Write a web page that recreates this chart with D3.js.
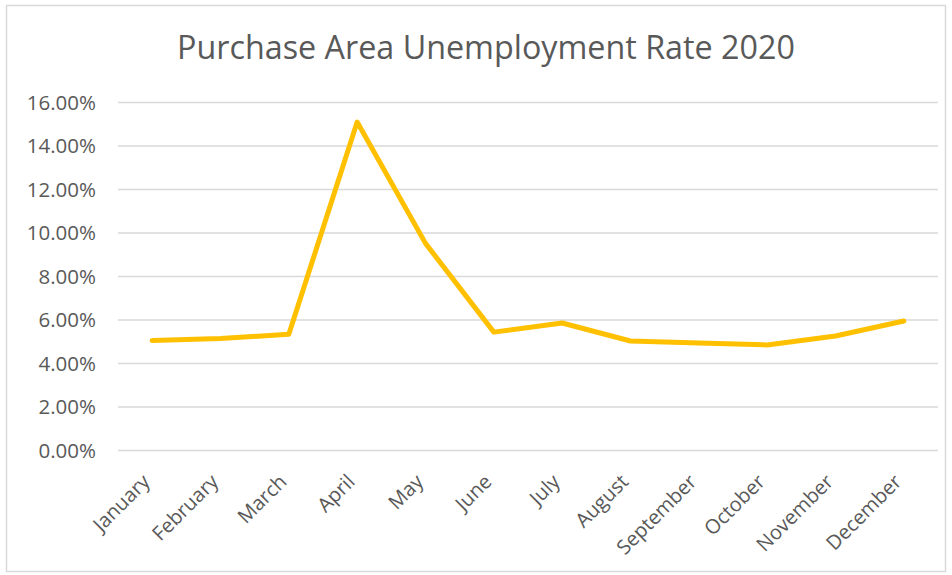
<!DOCTYPE html>
<html><head><meta charset="utf-8">
<script src="https://cdn.jsdelivr.net/npm/d3@7"></script>
<style>body{margin:0;background:#fff}svg{display:block}</style>
</head><body><svg id="c" width="952" height="575"></svg>
<script>
const months = ["January","February","March","April","May","June","July","August","September","October","November","December"];
const rates = [5.03, 5.13, 5.32, 15.08, 9.5, 5.42, 5.84, 5.01, 4.92, 4.83, 5.24, 5.93];
const yTicks = [0,2,4,6,8,10,12,14,16];
const title = "Purchase Area Unemployment Rate 2020";

const svg = d3.select("#c");
const W=952,H=575;
const m={left:118,right:14,top:102,bottom:125};
const FONT="'Open Sans', sans-serif";
svg.append("rect").attr("x",6.5).attr("y",5.5).attr("width",W-13).attr("height",H-9)
  .attr("fill","#fff").attr("stroke","#d9d9d9").attr("stroke-width",1.5);

const x=d3.scaleBand().domain(months).range([m.left,W-m.right]);
const y=d3.scaleLinear().domain([0,16]).range([H-m.bottom,m.top]);

const t=svg.append("text").attr("x",486).attr("y",59).attr("text-anchor","middle")
  .attr("font-family",FONT).attr("font-size",33)
  .attr("fill","#595959").text(title);
const tl=t.node().getComputedTextLength();
t.attr("font-size",33*618/tl);

const yAxis=svg.append("g").attr("transform",`translate(${m.left},0)`)
  .call(d3.axisLeft(y).tickValues(yTicks).tickSize(-(W-m.left-m.right)).tickFormat(d=>d.toFixed(2)+"%"));
yAxis.select(".domain").remove();
yAxis.selectAll("line").attr("stroke","#d9d9d9").attr("stroke-width",1.5);
yAxis.selectAll("text").attr("x",-22).attr("dy","0.36em").attr("font-family",FONT).attr("font-size",20.5).attr("fill","#595959");

const xAxis=svg.append("g").attr("transform",`translate(0,${H-m.bottom})`)
  .call(d3.axisBottom(x).tickSize(0));
xAxis.select(".domain").remove();
xAxis.selectAll("text").attr("font-family",FONT).attr("font-size",20).attr("fill","#595959")
  .attr("text-anchor","end").attr("dy",0).attr("y",0)
  .attr("transform","translate(-1,33) rotate(-45)");

const line=d3.line().x((d,i)=>x(months[i])+x.bandwidth()/2).y(d=>y(d));
svg.append("path").datum(rates).attr("d",line).attr("fill","none")
  .attr("stroke","#FFC000").attr("stroke-width",5).attr("stroke-linejoin","round").attr("stroke-linecap","round");
</script></body></html>
